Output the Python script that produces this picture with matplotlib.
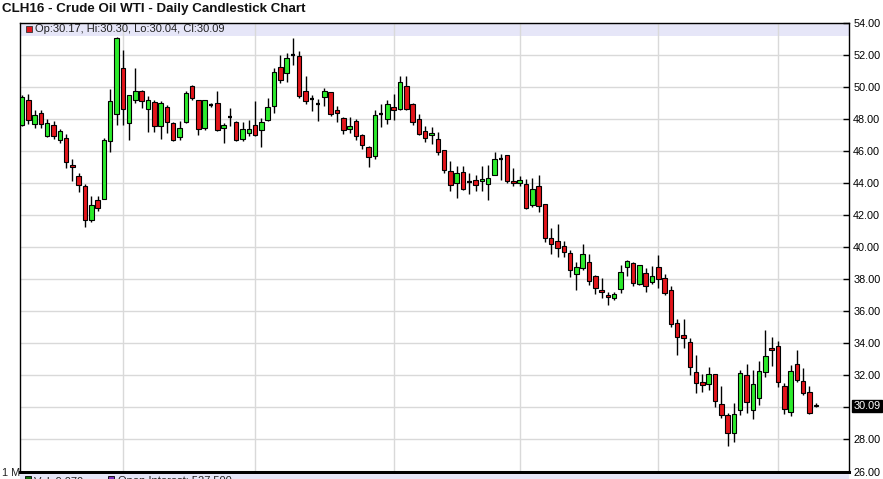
import matplotlib
matplotlib.use('Agg')
import matplotlib.pyplot as plt
import numpy as np
import pandas as pd
from matplotlib.patches import Rectangle
from matplotlib.transforms import blended_transform_factory

# ---------------- data ----------------
holidays = ['2015-09-07', '2015-11-26', '2015-12-25', '2016-01-01', '2016-01-18']
dates = pd.bdate_range('2015-08-10', '2016-02-09', freq='C', holidays=holidays)

opens = [47.63, 49.18, 47.69, 48.37, 46.93, 47.63, 46.70, 46.82, 45.09, 44.43,
         43.81, 41.69, 42.93, 42.99, 46.58, 48.31, 51.17, 47.73, 49.15, 49.71,
         48.60, 49.04, 47.52, 48.73, 47.71, 46.85, 47.79, 50.06, 49.15, 47.42,
         48.88, 48.98, 47.42, 48.08, 47.79, 46.73, 47.10, 47.58, 47.27, 47.94,
         48.77, 51.23, 50.85, 51.96, 51.90, 49.75, 49.20, 48.90, 49.38, 49.65,
         48.56, 48.06, 47.38, 47.84, 47.01, 46.21, 45.69, 48.31, 48.00, 48.72,
         48.62, 50.06, 48.93, 48.00, 47.22, 46.97, 46.72, 46.02, 44.73, 44.00,
         44.69, 44.06, 44.19, 44.10, 43.94, 44.52, 45.50, 45.71, 44.13, 43.96,
         43.94, 42.63, 43.80, 42.67, 40.54, 40.38, 40.06, 39.60, 38.29, 38.67,
         39.08, 38.19, 37.31, 37.00, 36.79, 37.38, 38.73, 39.02, 37.67, 38.35,
         37.79, 38.73, 38.04, 37.34, 35.28, 34.52, 34.06, 32.21, 31.59, 31.46,
         32.08, 30.19, 29.50, 28.37, 29.84, 32.04, 29.81, 30.56, 32.19, 33.69,
         33.84, 31.36, 29.73, 32.70, 31.67, 30.97, 30.17]
closes = [49.38, 47.90, 48.25, 47.69, 47.75, 46.93, 47.22, 45.28, 44.97, 43.84,
          41.69, 42.64, 42.43, 46.66, 49.13, 53.04, 48.63, 49.46, 49.74, 49.08,
          49.15, 47.52, 48.96, 47.79, 46.69, 47.42, 49.60, 49.29, 47.38, 49.15,
          48.88, 47.27, 47.63, 48.08, 46.69, 47.38, 47.35, 46.96, 47.79, 48.73,
          50.92, 50.40, 51.79, 51.96, 49.44, 49.13, 49.20, 48.90, 49.71, 48.27,
          48.37, 47.32, 47.55, 46.95, 46.37, 45.59, 48.25, 48.31, 48.93, 48.56,
          50.29, 48.62, 47.79, 47.07, 46.82, 47.10, 45.90, 44.79, 43.85, 44.63,
          43.60, 44.06, 43.88, 44.21, 44.31, 45.50, 45.50, 44.10, 43.96, 44.15,
          42.46, 43.60, 42.57, 40.54, 40.17, 39.92, 39.71, 38.56, 38.73, 39.54,
          37.88, 37.42, 37.17, 36.90, 37.04, 38.42, 39.13, 37.73, 38.88, 37.58,
          38.19, 37.98, 37.15, 35.18, 34.41, 34.31, 32.49, 31.53, 31.38, 32.06,
          30.39, 29.53, 28.37, 29.57, 32.14, 30.35, 31.46, 32.29, 33.22, 33.55,
          31.59, 29.88, 32.29, 31.73, 30.91, 29.67, 30.09]
highs = [49.45, 49.55, 48.52, 48.56, 48.00, 47.84, 47.34, 47.07, 45.51, 44.60,
         43.94, 43.15, 43.15, 46.82, 49.85, 53.10, 52.27, 49.50, 51.17, 49.79,
         49.40, 49.15, 49.08, 48.88, 47.77, 47.83, 49.71, 50.13, 49.19, 49.19,
         49.00, 49.75, 47.73, 48.67, 47.83, 47.77, 47.94, 49.12, 48.04, 49.29,
         51.17, 52.00, 52.10, 53.04, 52.20, 50.68, 49.45, 49.24, 49.90, 49.65,
         48.82, 48.10, 48.10, 48.00, 47.07, 46.29, 48.52, 48.93, 49.18, 49.55,
         50.68, 50.68, 48.97, 48.31, 47.53, 47.48, 47.19, 46.08, 45.35, 45.04,
         45.04, 44.63, 44.52, 45.04, 45.10, 45.94, 45.77, 45.75, 44.94, 44.40,
         44.21, 44.29, 44.50, 42.67, 41.17, 41.44, 40.38, 39.81, 39.08, 40.17,
         39.54, 38.25, 38.04, 37.21, 37.21, 38.88, 39.19, 39.04, 38.88, 38.67,
         38.81, 39.50, 38.31, 37.55, 35.48, 35.48, 34.31, 33.28, 32.08, 32.52,
         32.10, 31.36, 29.67, 30.25, 32.35, 32.72, 32.35, 32.91, 34.82, 34.41,
         34.14, 31.53, 32.66, 33.59, 32.45, 31.32, 30.30]
lows = [47.55, 47.69, 47.42, 47.42, 46.87, 46.76, 46.49, 44.91, 44.14, 43.42,
        41.26, 41.55, 42.23, 42.99, 45.94, 47.60, 47.60, 46.69, 49.00, 48.67,
        47.20, 47.20, 46.73, 47.10, 46.63, 46.69, 47.73, 49.19, 47.00, 47.31,
        48.70, 47.21, 46.48, 47.52, 46.58, 46.58, 46.90, 46.90, 46.23, 47.83,
        48.35, 50.23, 50.27, 51.38, 49.30, 48.93, 48.47, 47.86, 48.78, 48.20,
        47.79, 47.03, 47.11, 46.66, 46.10, 45.01, 45.46, 47.48, 47.69, 47.90,
        48.52, 48.52, 47.59, 46.97, 46.56, 46.45, 45.73, 44.63, 43.52, 43.06,
        43.54, 43.33, 43.52, 43.48, 42.92, 44.52, 44.20, 44.00, 43.83, 43.79,
        42.37, 42.52, 42.21, 40.33, 39.54, 39.40, 39.40, 38.15, 37.31, 38.56,
        37.63, 37.10, 36.83, 36.38, 36.69, 37.15, 38.19, 37.56, 37.63, 37.21,
        37.69, 37.42, 37.00, 35.03, 33.28, 33.69, 32.04, 30.91, 30.97, 31.11,
        30.02, 29.36, 27.57, 27.81, 29.53, 29.67, 29.26, 30.12, 31.88, 32.60,
        31.28, 29.57, 29.46, 31.57, 30.80, 29.57, 30.04]

y_ticks = [26, 28, 30, 32, 34, 36, 38, 40, 42, 44, 46, 48, 50, 52, 54]
title = "CLH16 - Crude Oil WTI - Daily Candlestick Chart"
last_label = "30.09"
legend_text = "Op:30.17, Hi:30.30, Lo:30.04, Cl:30.09"
vol_text = "Vol: 9,070"
oi_text = "Open Interest: 527,500"

# ---------------- figure ----------------
W, H = 883, 479
fig = plt.figure(figsize=(W / 100, H / 100), dpi=100)
fig.patch.set_facecolor('white')

ax_left, ax_right, ax_top, ax_bottom = 20, 849, 22.5, 471.5
ax = fig.add_axes([ax_left / W, 1 - ax_bottom / H, (ax_right - ax_left) / W, (ax_bottom - ax_top) / H])

o = np.array(opens); c = np.array(closes); h = np.array(highs); l = np.array(lows)
x = np.arange(len(o))

GREEN = '#2CEB2C'
RED = '#E3151B'
GRID = '#D9D9D9'

# grid
for yv in y_ticks:
    ax.axhline(yv, color=GRID, lw=1.0, zorder=1)
months = pd.Series(dates.month)
month_starts = x[(months != months.shift()).values][1:]
for xv in month_starts:
    ax.axvline(xv, color=GRID, lw=1.0, zorder=1)

# legend band at top of price panel
band_h = 13 / (ax_bottom - ax_top)
ax.add_patch(Rectangle((0, 1 - band_h), 1, band_h, transform=ax.transAxes,
                       facecolor='#E6E6F8', edgecolor='none', zorder=0.5))

# wicks
ax.vlines(x, l, h, color='black', lw=1.0, zorder=2)
# bodies
bw = 0.72
doji = np.isclose(o, c)
colors = np.where(c > o, GREEN, RED)
nd = ~doji
ax.bar(x[nd], (c - o)[nd], bottom=o[nd], width=bw, color=colors[nd],
       edgecolor='black', linewidth=0.8, zorder=3)
ax.hlines(o[doji], x[doji] - bw / 2, x[doji] + bw / 2, color='black', lw=1.6, zorder=3)

ax.set_xlim(-0.32, 131.27)
ax.set_ylim(26, 54)

# axes styling
ax.set_xticks([])
ax.yaxis.tick_right()
ax.set_yticks(y_ticks)
ax.set_yticklabels(['' if v == 30 else f'{v:.2f}' for v in y_ticks],
                   fontfamily='Liberation Sans', fontsize=7.8)
ax.tick_params(axis='y', direction='in', length=4, width=1, pad=3, colors='black')
for s in ['left', 'right', 'top']:
    ax.spines[s].set_linewidth(1.0)
    ax.spines[s].set_color('black')
ax.spines['bottom'].set_linewidth(2.2)

# last price box
tr = blended_transform_factory(ax.transAxes, ax.transData)
ax.text(1.0 + 4.5 / (ax_right - ax_left), 30.09, last_label, transform=tr,
        ha='left', va='center', color='white', fontsize=7.8, fontfamily='Liberation Sans',
        bbox=dict(boxstyle='square,pad=0.12', facecolor='black', edgecolor='black'))

# legend inside band
ax.add_patch(Rectangle((25.5 / W, 1 - 32 / H), 6 / W, 6 / H, transform=fig.transFigure,
                       facecolor=RED, edgecolor='#333333', lw=0.6, zorder=5, clip_on=False))
fig.text(35 / W, 1 - 29.5 / H, legend_text, ha='left', va='center',
         fontsize=8, fontfamily='Liberation Sans', color='#222222')

# title
fig.text(2 / W, 1 - 8.7 / H, title, ha='left', va='center', fontsize=9.6,
         fontweight='bold', fontfamily='Liberation Sans', color='#111111')

# bottom volume panel header (cut off)
fig.patches.append(Rectangle((ax_left / W, 0), (ax_right - ax_left) / W, 5 / H,
                             transform=fig.transFigure, facecolor='#E6E6F8', edgecolor='none'))
fig.text(2 / W, 1 - 473 / H, "1 M", ha='left', va='center', fontsize=7.8,
         fontfamily='Liberation Sans', color='#222222')
fig.patches.append(Rectangle((25 / W, -3 / H), 6 / W, 6 / H, transform=fig.transFigure,
                             facecolor='#0A6E0A', edgecolor='black', lw=0.6))
fig.text(34 / W, 1 - 476.5 / H, vol_text, ha='left', va='top', fontsize=8,
         fontfamily='Liberation Sans', color='#222222')
fig.patches.append(Rectangle((108 / W, -3 / H), 6 / W, 6 / H, transform=fig.transFigure,
                             facecolor='#7B2FBE', edgecolor='black', lw=0.6))
fig.text(118 / W, 1 - 476.5 / H, oi_text, ha='left', va='top', fontsize=8,
         fontfamily='Liberation Sans', color='#222222')

fig.savefig('out.png', dpi=100)
